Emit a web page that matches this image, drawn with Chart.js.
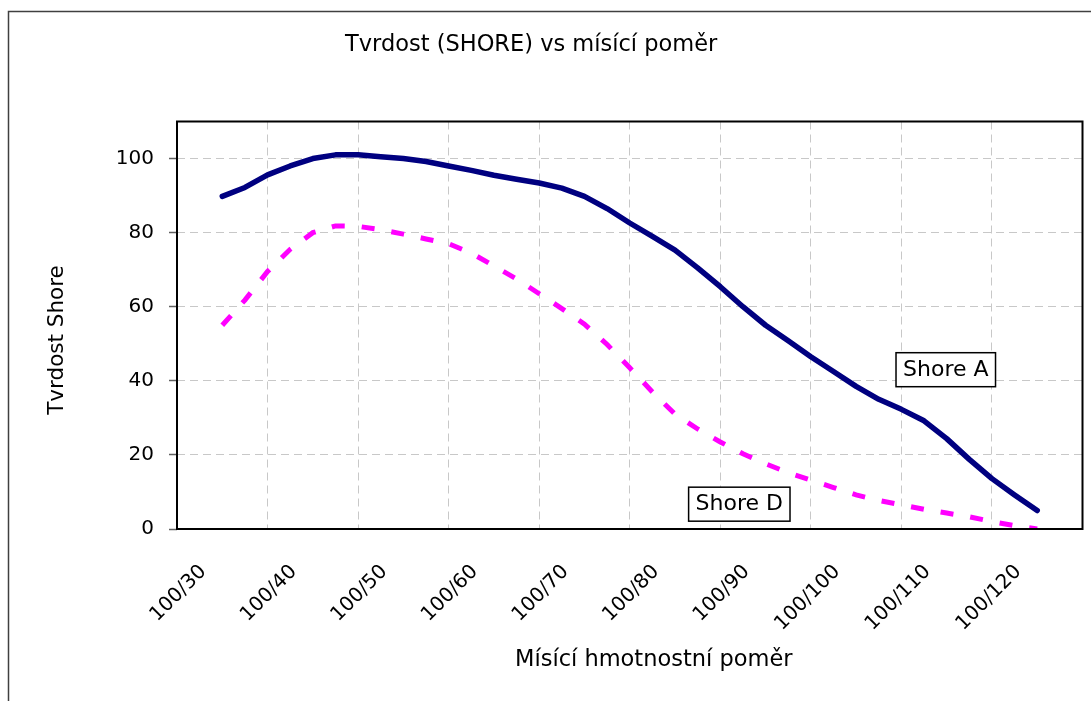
<!DOCTYPE html>
<html>
<head>
<meta charset="utf-8">
<script src="https://cdn.jsdelivr.net/npm/chart.js@4.4.1/dist/chart.umd.min.js"></script>
<style>
  html, body { margin: 0; padding: 0; background: #ffffff; }
  #wrap { width: 1091px; height: 701px; }
</style>
</head>
<body>
<div id="wrap"><canvas id="c" width="1091" height="701"></canvas></div>
<script>
// ---- data ----
const ratios = [30, 32.5, 35, 37.5, 40, 42.5, 45, 47.5, 50, 52.5, 55, 57.5, 60, 62.5, 65, 67.5, 70, 72.5, 75, 77.5,
                80, 82.5, 85, 87.5, 90, 92.5, 95, 97.5, 100, 102.5, 105, 107.5, 110, 112.5, 115, 117.5, 120];
const shoreA = [89.8, 92.2, 95.6, 98, 100, 101, 101, 100.5, 100, 99.2, 98, 96.8, 95.5, 94.4, 93.4, 92, 89.8, 86.5, 82.6, 79,
                75.3, 70.5, 65.4, 60, 55, 50.8, 46.5, 42.5, 38.5, 35, 32.3, 29.2, 24.4, 18.8, 13.6, 9.2, 5];
const shoreD = [55, 61.8, 69.5, 75.5, 80, 81.8, 81.7, 80.8, 79.6, 78.3, 77, 74.5, 71, 67.5, 63.5, 59.5, 55.3, 49.8, 43.5, 37,
                31, 27, 23.5, 20.3, 17.6, 15.2, 13.2, 11.2, 9.2, 7.7, 6.5, 5.3, 4.3, 3.3, 2.0, 0.9, 0];
const categoryValues = [30, 40, 50, 60, 70, 80, 90, 100, 110, 120];
const categoryLabels = ['100/30', '100/40', '100/50', '100/60', '100/70', '100/80', '100/90', '100/100', '100/110', '100/120'];
const yTicks = [0, 20, 40, 60, 80, 100];
const seriesNames = ['Shore A', 'Shore D'];
const chartTitle = 'Tvrdost (SHORE) vs mísící poměr';
const xTitle = 'Mísící hmotnostní poměr';
const yTitle = 'Tvrdost Shore';
// annotation labels anchored in data space (ratio, hardness)
const labelAnchorsX = [109.9, 87.1];
const labelAnchorsY = [43, 6.7];

const FONT = "'DejaVu Sans', 'Liberation Sans', Arial, sans-serif";
Chart.defaults.font.family = FONT;
Chart.defaults.color = '#000000';

const GRID = '#c8c8c8';

const decorPlugin = {
  id: 'decor',
  beforeDraw(chart) {
    const ctx = chart.ctx;
    ctx.save();
    ctx.fillStyle = '#ffffff';
    ctx.fillRect(0, 0, chart.width, chart.height);
    // outer frame (left and top edges visible)
    ctx.strokeStyle = '#404040';
    ctx.lineWidth = 1.5;
    ctx.beginPath();
    ctx.moveTo(8.5, chart.height + 2);
    ctx.lineTo(8.5, 11.5);
    ctx.lineTo(chart.width + 2, 11.5);
    ctx.stroke();
    ctx.restore();
  },
  afterDraw(chart) {
    const ctx = chart.ctx;
    const a = chart.chartArea;
    const xs = chart.scales.x, ys = chart.scales.y;
    ctx.save();
    // plot border
    ctx.strokeStyle = '#000000';
    ctx.lineWidth = 2;
    ctx.strokeRect(a.left, a.top, a.right - a.left, a.bottom - a.top);

    // series labels in boxes
    ctx.font = '22px ' + FONT;
    ctx.textAlign = 'left';
    ctx.textBaseline = 'alphabetic';
    for (let i = 0; i < seriesNames.length; i++) {
      const cx = xs.getPixelForValue(labelAnchorsX[i]);
      const cy = ys.getPixelForValue(labelAnchorsY[i]);
      const w = ctx.measureText(seriesNames[i]).width + 14;
      const h = 34;
      ctx.fillStyle = '#ffffff';
      ctx.fillRect(cx - w / 2, cy - h / 2, w, h);
      ctx.strokeStyle = '#000000';
      ctx.lineWidth = 1.5;
      ctx.strokeRect(cx - w / 2, cy - h / 2, w, h);
      ctx.fillStyle = '#000000';
      ctx.fillText(seriesNames[i], cx - w / 2 + 7, cy + 6);
    }

    // chart title
    ctx.fillStyle = '#000000';
    ctx.font = '22.5px ' + FONT;
    ctx.textAlign = 'left';
    ctx.fillText(chartTitle, 345, 50.5);

    // x axis title
    ctx.font = '22.5px ' + FONT;
    ctx.fillText(xTitle, 515, 666);

    // y axis title
    ctx.save();
    ctx.translate(63, 340);
    ctx.rotate(-Math.PI / 2);
    ctx.font = '21.5px ' + FONT;
    ctx.textAlign = 'center';
    ctx.fillText(yTitle, 0, 0);
    ctx.restore();

    ctx.restore();
  }
};

const ctx = document.getElementById('c').getContext('2d');
new Chart(ctx, {
  type: 'line',
  data: {
    datasets: [
      {
        label: seriesNames[0],
        data: ratios.map((r, i) => ({ x: r, y: shoreA[i] })),
        borderColor: '#000080',
        backgroundColor: '#000080',
        borderWidth: 5.5,
        borderCapStyle: 'round',
        borderJoinStyle: 'round',
        pointRadius: 0,
        tension: 0,
        fill: false
      },
      {
        label: seriesNames[1],
        data: ratios.map((r, i) => ({ x: r, y: shoreD[i] })),
        borderColor: '#ff00ff',
        backgroundColor: '#ff00ff',
        borderWidth: 5,
        borderDash: [13, 17],
        borderCapStyle: 'butt',
        borderJoinStyle: 'miter',
        pointRadius: 0,
        tension: 0,
        fill: false
      }
    ]
  },
  options: {
    responsive: false,
    animation: false,
    devicePixelRatio: 1,
    layout: { padding: { top: 121.5, right: 8.5, bottom: 0, left: 0 } },
    plugins: {
      legend: { display: false },
      title: { display: false },
      tooltip: { enabled: false }
    },
    scales: {
      x: {
        type: 'linear',
        min: 25,
        max: 125,
        afterBuildTicks(scale) {
          const t = [];
          for (let v = 25; v <= 125; v += 5) t.push({ value: v });
          scale.ticks = t;
        },
        afterFit(scale) {
          scale.height = 701 - 529;
          scale.paddingLeft = 0;
          scale.paddingRight = 0;
        },
        border: { display: false, dash: [8, 5] },
        grid: {
          drawTicks: false,
          color(c) {
            const v = c.tick ? c.tick.value : 0;
            return (v > 25 && v < 125 && (v - 25) % 10 === 0) ? GRID : 'rgba(0,0,0,0)';
          },
          lineWidth: 1
        },
        ticks: {
          autoSkip: false,
          maxRotation: 45,
          minRotation: 45,
          padding: 31,
          labelOffset: -19,
          font: { size: 20, family: FONT },
          color: '#000000',
          callback(v) {
            const i = categoryValues.indexOf(v);
            return i >= 0 ? categoryLabels[i] : '';
          }
        }
      },
      y: {
        type: 'linear',
        min: 0,
        max: 110,
        afterBuildTicks(scale) {
          scale.ticks = yTicks.map(v => ({ value: v }));
        },
        afterFit(scale) {
          scale.width = 177;
          scale.paddingTop = 0;
          scale.paddingBottom = 0;
        },
        border: { display: false, dash: [8, 5] },
        grid: {
          color: GRID,
          lineWidth: 1,
          drawTicks: true,
          tickLength: 8,
          tickColor: '#606060',
          tickWidth: 1.5,
          tickBorderDash: []
        },
        ticks: {
          padding: 15,
          font: { size: 20, family: FONT },
          color: '#000000'
        }
      }
    }
  },
  plugins: [decorPlugin]
});
</script>
</body>
</html>
